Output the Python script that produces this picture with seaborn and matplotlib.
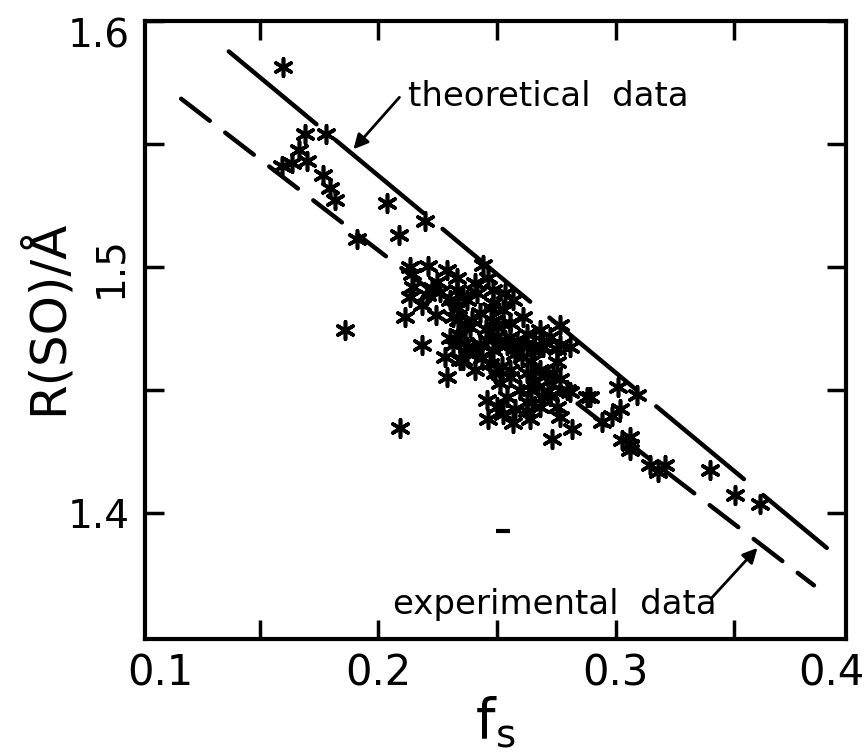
import numpy as np
import pandas as pd
import matplotlib
matplotlib.use("Agg")
import matplotlib.pyplot as plt
import seaborn as sns
from matplotlib.transforms import ScaledTranslation, blended_transform_factory

# ---------------- data ----------------
f_s = [
    0.160, 0.169, 0.178, 0.1665, 0.1698, 0.1593, 0.1635, 0.1768, 0.1796, 0.1817,
    0.2035, 0.2195, 0.2089, 0.1911,
    0.2133, 0.2210, 0.2140, 0.2288, 0.2330, 0.2246, 0.2147, 0.2204, 0.2260, 0.2133,
    0.2330, 0.2301, 0.2358, 0.2316, 0.2337, 0.2365, 0.2112, 0.1859, 0.2183, 0.2301, 0.2365,
    0.2440, 0.2407, 0.2463, 0.2569, 0.2766, 0.2372, 0.2414, 0.2484, 0.2527, 0.2611,
    0.2428, 0.2386, 0.2499, 0.2555, 0.2625, 0.2681, 0.2724, 0.2457, 0.2583, 0.2696, 0.2766,
    0.2281, 0.2344, 0.2372, 0.2288, 0.2092,
    0.2372, 0.2428, 0.2484, 0.2541, 0.2625, 0.2681, 0.2751, 0.2808,
    0.2358, 0.2407, 0.2470, 0.2555, 0.2625, 0.2681, 0.2738, 0.2660,
    0.2513, 0.2597, 0.2457, 0.2541, 0.2625, 0.2696, 0.2794, 0.2878, 0.2751, 0.2499,
    0.2463, 0.2569, 0.2639, 0.2681, 0.2766, 0.2815, 0.2731,
    0.2808, 0.2893, 0.3009, 0.3089, 0.3019, 0.2984, 0.2942, 0.3025, 0.3060, 0.3060,
    0.3060, 0.3145, 0.3208, 0.3180, 0.3398, 0.3503, 0.3609,
    0.2500, 0.2535, 0.2575, 0.2605, 0.2645, 0.2520, 0.2490, 0.2555, 0.2645, 0.2675,
    0.2715, 0.2705, 0.2485, 0.2525, 0.2455, 0.2435, 0.2415, 0.2555, 0.2605, 0.2655,
    0.2695, 0.2755, 0.2765, 0.2725, 0.2625, 0.2575, 0.2525, 0.2395, 0.2345, 0.2315,
    0.2245, 0.2185, 0.2225, 0.2485, 0.2535, 0.2475, 0.2335,
]
r_so = [
    1.581, 1.554, 1.554, 1.5475, 1.5432, 1.541, 1.5421, 1.5374, 1.5322, 1.5272,
    1.5261, 1.5188, 1.5132, 1.5113,
    1.500, 1.5004, 1.4972, 1.4988, 1.4954, 1.4940, 1.4920, 1.4886, 1.4899, 1.4879,
    1.4907, 1.4866, 1.4879, 1.4798, 1.4785, 1.4764, 1.4798, 1.4744, 1.4683, 1.4710, 1.4690,
    1.5008, 1.4934, 1.4954, 1.4866, 1.4764, 1.4866, 1.4893, 1.4852, 1.4825, 1.4798,
    1.4812, 1.4757, 1.4757, 1.4771, 1.4730, 1.4744, 1.4717, 1.4703, 1.4690, 1.4676, 1.4683,
    1.4636, 1.4622, 1.4651, 1.4552, 1.4345,
    1.4675, 1.4689, 1.4662, 1.4683, 1.4689, 1.4675, 1.4669, 1.4675,
    1.4622, 1.4581, 1.4608, 1.4581, 1.4568, 1.4581, 1.4568, 1.4534,
    1.4528, 1.4501, 1.4460, 1.4473, 1.4453, 1.4473, 1.4501, 1.4473, 1.4432, 1.4432,
    1.4385, 1.4365, 1.4385, 1.4432, 1.4391, 1.4344, 1.4304,
    1.4494, 1.4473, 1.4514, 1.4480, 1.4422, 1.4395, 1.4372, 1.4297, 1.4310, 1.4277,
    1.4256, 1.4195, 1.4195, 1.4168, 1.4175, 1.4073, 1.4040,
    1.4720, 1.4705, 1.4645, 1.4635, 1.4620, 1.4600, 1.4570, 1.4555, 1.4500, 1.4515,
    1.4495, 1.4560, 1.4780, 1.4770, 1.4750, 1.4630, 1.4655, 1.4715, 1.4680, 1.4660,
    1.4700, 1.4615, 1.4545, 1.4475, 1.4415, 1.4425, 1.4405, 1.4785, 1.4725, 1.4685,
    1.4805, 1.4845, 1.4915, 1.4905, 1.4895, 1.4835, 1.4835,
]
odd_f = [0.2524]
odd_r = [1.3928]

theory_f = [0.137, 0.389]
theory_r = [1.5875, 1.386]
exper_f = [0.1169, 0.3836]
exper_r = [1.5683, 1.3708]

x_ticks = [0.15, 0.20, 0.25, 0.30, 0.35]
x_ticklabels = ["", "0.2", "", "0.3", ""]
y_ticks = [1.40, 1.45, 1.50, 1.55, 1.60]
y_ticklabels = ["1.4", "", "1.5", "", "1.6"]

# ---------------- figure ----------------
sns.set_theme(style="ticks")
plt.rcParams["font.family"] = ["DejaVu Sans"]
plt.rcParams["lines.scale_dashes"] = False

fig = plt.figure(figsize=(8.66, 7.55), dpi=100)
ax = fig.add_axes([0.167, 0.1536, 0.8096, 0.819])
fig.patch.set_facecolor("white")
ax.set_facecolor("white")

pts = pd.DataFrame({"f": f_s, "R": r_so})
sns.lineplot(x=theory_f, y=theory_r, ax=ax, color="black", lw=3.2, zorder=2)
sns.lineplot(x=exper_f, y=exper_r, ax=ax, color="black", lw=3.2, zorder=2)
ax.lines[0].set_dashes([82, 18])
ax.lines[1].set_dashes([26, 14])
for ln in ax.lines:
    ln.set_dash_capstyle("round")

sns.scatterplot(data=pts, x="f", y="R", ax=ax, marker=(6, 2, 0), s=160,
                color="black", linewidth=2.6, zorder=3)
ax.scatter(odd_f, odd_r, marker="_", s=100, color="black", linewidths=3, zorder=3)

ax.set_xlim(0.1015, 0.397)
ax.set_ylim(1.349, 1.6)

ax.set_xticks(x_ticks)
ax.set_xticklabels(x_ticklabels)
ax.set_yticks(y_ticks)
ax.set_yticklabels(y_ticklabels)
ax.tick_params(direction="in", length=14, width=2.5, colors="black",
               top=True, right=True, labelsize=30, pad=10)
ax.tick_params(axis="y", labelsize=28, pad=11)

for sp in ax.spines.values():
    sp.set_linewidth(3)
    sp.set_color("black")
    sp.set_visible(True)

# special tick label handling (as in the original)
for lab in ax.get_yticklabels():
    if lab.get_text() == "1.5":
        lab.set_rotation(90)
        lab.set_va("center")
    if lab.get_text() == "1.6":
        lab.set_transform(lab.get_transform() + ScaledTranslation(0, -0.12, fig.dpi_scale_trans))

trans = blended_transform_factory(ax.transData, ax.transAxes)
for xv, txt in [(0.108, "0.1"), (0.391, "0.4")]:
    ax.text(xv, 0.0, txt, transform=trans + ScaledTranslation(0, -10 / 72, fig.dpi_scale_trans),
            ha="center", va="top", fontsize=30, color="black")

ax.set_xlabel("f$_\\mathregular{s}$", fontsize=40, labelpad=0, color="black")
ax.set_ylabel("R(SO)/Å", fontsize=36, color="black")
ax.yaxis.set_label_coords(-0.104, 0.52)

# annotations
ax.text(0.2127, 1.5654, "theoretical  data", fontsize=24.5, ha="left", va="baseline", color="black")
ax.annotate("", xy=(0.1895, 1.5478), xytext=(0.2089, 1.5689),
            arrowprops=dict(arrowstyle="-|>", color="black", lw=2, mutation_scale=22,
                            shrinkA=0, shrinkB=0))
ax.text(0.206, 1.3592, "experimental  data", fontsize=24.5, ha="left", va="baseline", color="black")
ax.annotate("", xy=(0.3598, 1.386), xytext=(0.3405, 1.3657),
            arrowprops=dict(arrowstyle="-|>", color="black", lw=2, mutation_scale=22,
                            shrinkA=0, shrinkB=0))

fig.savefig("out.png", dpi=100, facecolor="white")
